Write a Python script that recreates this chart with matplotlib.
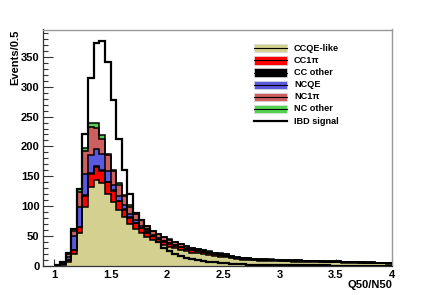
import numpy as np
import matplotlib
matplotlib.use("Agg")
import matplotlib.pyplot as plt
from matplotlib.patches import Rectangle
from matplotlib.lines import Line2D
from matplotlib.ticker import MultipleLocator

plt.rcParams['font.family'] = ['Liberation Sans', 'DejaVu Sans']
plt.rcParams['font.weight'] = 'bold'

# ---- data (bins of 0.05 from 1.00 to 4.00) ----
bin_lo, bin_hi, bin_w = 1.0, 4.0, 0.05

ccqe_like = [0.5, 2, 7, 20, 55, 99, 132, 144, 138, 121,
             107, 93, 82, 70, 62, 55, 48, 43, 39, 35,
             32, 29, 26.5, 24, 22, 20.5, 19, 17.5, 16, 15,
             14, 12.5, 11, 10, 9, 8.8, 8.5, 8.2, 7.9, 7.6,
             7.4, 7.2, 7.0, 6.8, 6.6, 6.4, 6.2, 6.0, 5.8, 5.6,
             5.4, 5.2, 5.0, 4.8, 4.6, 4.4, 4.2, 4.0, 3.8, 3.6]
cc1pi = [0, 0.5, 2, 6, 10, 18, 22, 22, 21, 19,
         19, 15, 12, 10, 9, 8, 7, 6.3, 5.8, 5.3,
         5, 4.6, 4.2, 3.9, 3.6, 3.4, 3.2, 3, 2.8, 2.6,
         2.4, 2.2, 2, 1.8, 1.6, 1.5, 1.4, 1.4, 1.3, 1.3,
         1.2, 1.2, 1.1, 1.1, 1.1, 1.0, 1.0, 1.0, 0.9, 0.9,
         0.9, 0.8, 0.8, 0.8, 0.7, 0.7, 0.7, 0.6, 0.6, 0.6]
cc_other = [0, 0, 0, 0.5, 0.5, 1, 1, 1, 1, 1,
            1, 1, 1, 1, 1, 1, 0.8, 0.7, 0.7, 0.6,
            0.6, 0.6, 0.5, 0.5, 0.5, 0.5, 0.4, 0.4, 0.4, 0.4,
            0.3, 0.3, 0.3, 0.3, 0.3, 0.3, 0.3, 0.3, 0.2, 0.2,
            0.2, 0.2, 0.2, 0.2, 0.2, 0.2, 0.2, 0.2, 0.2, 0.2,
            0.2, 0.2, 0.1, 0.1, 0.1, 0.1, 0.1, 0.1, 0.1, 0.1]
ncqe = [0.3, 1, 6, 23.5, 33.5, 36, 31, 28, 27, 17,
        8, 8, 6, 5, 4, 3, 2.5, 1.8, 1.5, 1.2,
        1, 0.9, 0.7, 0.6, 0.5, 0.5, 0.4, 0.4, 0.3, 0.3,
        0.3, 0.2, 0.2, 0.2, 0.2, 0.2, 0.1, 0.1, 0.1, 0.1,
        0.1, 0.1, 0.1, 0.1, 0.1, 0.1, 0.1, 0.1, 0.1, 0.1,
        0.1, 0.1, 0.1, 0.1, 0.1, 0.1, 0.1, 0.1, 0.1, 0.1]
nc1pi = [0.2, 0.5, 5, 8, 25, 39, 46, 36, 26, 27,
         23, 18, 16, 13, 11, 9, 7.5, 6.5, 6, 5.5,
         5, 4.6, 4, 3.7, 3.2, 3, 2.8, 2.5, 2.3, 2.1,
         1.9, 1.7, 1.4, 1.1, 1.0, 1.0, 0.9, 0.9, 0.8, 0.8,
         0.8, 0.7, 0.7, 0.7, 0.6, 0.6, 0.6, 0.6, 0.5, 0.5,
         0.5, 0.5, 0.5, 0.4, 0.4, 0.4, 0.4, 0.4, 0.3, 0.3]
nc_other = [0, 0, 2, 3, 4, 4, 7, 8, 6, 3,
            3, 3, 2, 2, 1, 1, 0.7, 0.5, 0.5, 0.4,
            0.4, 0.3, 0.3, 0.3, 0.2, 0.2, 0.2, 0.2, 0.2, 0.1,
            0.1, 0.1, 0.1, 0.1, 0.1, 0.1, 0.1, 0.1, 0.1, 0,
            0, 0, 0, 0, 0, 0, 0, 0, 0, 0,
            0, 0, 0, 0, 0, 0, 0, 0, 0, 0]
ibd_signal = [1, 6, 22, 62, 129, 220, 315, 374, 377, 341,
              277, 213, 160, 120, 89, 76, 61, 49, 39, 30,
              24, 19.5, 16, 13, 11, 9.5, 8, 6.7, 5.7, 4.8,
              4, 3.4, 2.9, 2.4, 2, 1.7, 1.5, 1.3, 1.1, 1,
              0.9, 0.8, 0.7, 0.6, 0.55, 0.5, 0.45, 0.4, 0.35, 0.3,
              0.3, 0.25, 0.25, 0.2, 0.2, 0.2, 0.15, 0.15, 0.1, 0.1]

labels = ["CCQE-like", "CC1\u03c0", "CC other", "NCQE", "NC1\u03c0", "NC other"]
colors = ["#d4d08f", "#ff0000", "#000000", "#5a5ae0", "#cd5f5f", "#52d152"]
x_ticklabels = ["1", "1.5", "2", "2.5", "3", "3.5", "4"]

# ---- figure ----
W, H = 436, 295
fig = plt.figure(figsize=(W / 100, H / 100), dpi=100)
ax = fig.add_axes([43 / W, 1 - 265.7 / H, (392 - 43) / W, (265.7 - 29.5) / H])

edges = np.linspace(bin_lo, bin_hi, int(round((bin_hi - bin_lo) / bin_w)) + 1)
layers = [ccqe_like, cc1pi, cc_other, ncqe, nc1pi, nc_other]
base = np.zeros(len(edges) - 1)
cums = []
for vals, col in zip(layers, colors):
    top = base + np.asarray(vals, float)
    ax.stairs(top, edges, baseline=base, fill=True, color=col, lw=0, zorder=2)
    cums.append(top)
    base = top
for top in cums:
    ax.stairs(top, edges, baseline=None, color="black", lw=1.1, zorder=3)
ax.stairs(np.asarray(ibd_signal, float), edges, baseline=None, color="black",
          lw=1.6, zorder=4)

ax.set_xlim(0.9, 4.0)
ax.set_ylim(0, 396)

ax.xaxis.set_major_locator(MultipleLocator(0.5))
ax.xaxis.set_minor_locator(MultipleLocator(0.1))
ax.yaxis.set_major_locator(MultipleLocator(50))
ax.yaxis.set_minor_locator(MultipleLocator(10))
ax.set_xticks([1, 1.5, 2, 2.5, 3, 3.5, 4])
ax.set_xticklabels(x_ticklabels)

ax.tick_params(axis='both', which='both', direction='in', top=False, right=False,
               labelsize=8, color='#333333', width=0.8)
ax.tick_params(axis='y', which='major', length=7.5, pad=2.5)
ax.tick_params(axis='y', which='minor', length=3.7)
ax.tick_params(axis='x', which='major', length=5, pad=3)
ax.tick_params(axis='x', which='minor', length=2.5)
for lab in ax.get_xticklabels() + ax.get_yticklabels():
    lab.set_fontweight('bold')

for s in ['top', 'right']:
    ax.spines[s].set_color('#999999')
    ax.spines[s].set_linewidth(1.0)
for s in ['left', 'bottom']:
    ax.spines[s].set_color('#333333')
    ax.spines[s].set_linewidth(0.9)

fig.text(15.7 / W, 1 - 29.5 / H, "Events/0.5", rotation=90, ha='center', va='top',
         fontsize=8, fontweight='bold')
fig.text(392 / W, 1 - 285 / H, "Q50/N50", ha='right', va='center',
         fontsize=8, fontweight='bold')

# ---- legend ----
row_y = [48.2, 60.4, 72.5, 84.7, 96.8, 109.0, 121.0]
sx0, sx1, sh = 253.5, 286.5, 8.3
tx = 294
for i, (lab, col) in enumerate(zip(labels, colors)):
    yc = row_y[i]
    fig.patches.append(Rectangle((sx0 / W, 1 - (yc + sh / 2) / H), (sx1 - sx0) / W, sh / H,
                                 transform=fig.transFigure, facecolor=col,
                                 edgecolor='#dddddd', lw=0.5))
    fig.lines.append(Line2D([sx0 / W, sx1 / W], [1 - yc / H, 1 - yc / H],
                            transform=fig.transFigure, color='black', lw=0.8))
    fig.text(tx / W, 1 - yc / H, lab, ha='left', va='center', fontsize=6.6,
             fontweight='bold')
yc = row_y[6]
fig.lines.append(Line2D([sx0 / W, sx1 / W], [1 - yc / H, 1 - yc / H],
                        transform=fig.transFigure, color='black', lw=1.6))
fig.text(tx / W, 1 - yc / H, "IBD signal", ha='left', va='center', fontsize=6.6,
         fontweight='bold')

fig.savefig("out.png", dpi=100)
